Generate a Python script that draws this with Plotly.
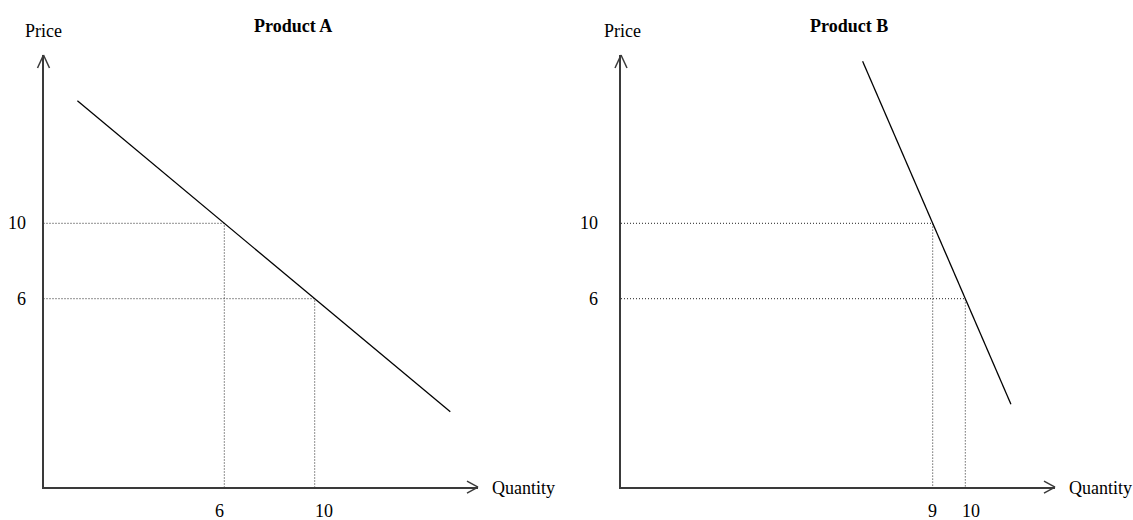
import plotly.graph_objects as go

# ---------------- data ----------------
titles = ["Product A", "Product B"]
axis_price_label = "Price"
axis_qty_label = "Quantity"

# demand lines (quantity, price)
qA = [-0.5, 16.0]
pA = [16.5, 0.0]
qB = [6.85, 11.4]
pB = [18.6, 0.4]

# reference points: price levels and matching quantities
price_levels = [10, 6]
qty_A = [6, 10]
qty_B = [9, 10]

# ---------------- layout constants (pixels) ----------------
W, H = 1133, 520
FONT = "Liberation Serif, Times New Roman, serif"
AXIS_COLOR = "#3a3a3a"

# y axis (shared geometry): origin pixel, top pixel, calibration (value, px)
Y0PX, Y1PX = 487.2, 55.0
PCAL = (10, 223.3, 6, 298.7)

panels = [
    dict(title=titles[0], q=qA, p=pA, qty=qty_A, x0px=43.5, x1px=478.0,
         qcal=(6, 224.3, 10, 314.7), title_x=293, price_x=44,
         xtick_shift=[-5, 9], xtick_y=-24, ytick_shift=-16, qty_label_x=490),
    dict(title=titles[1], q=qB, p=pB, qty=qty_B, x0px=621.0, x1px=1055.0,
         qcal=(9, 932.7, 10, 965.3), title_x=849, price_x=622,
         xtick_shift=[0, 6], xtick_y=-24, ytick_shift=-21, qty_label_x=1067),
]


def val_at(px, cal):
    v1, p1, v2, p2 = cal
    return v1 + (px - p1) * (v2 - v1) / (p2 - p1)


fig = go.Figure()
shapes = []
annotations = []

prange = [val_at(Y0PX, PCAL), val_at(Y1PX, PCAL)]
ydom = [1 - Y0PX / H, 1 - Y1PX / H]

for i, pn in enumerate(panels, start=1):
    xa = "x" if i == 1 else f"x{i}"
    ya = "y" if i == 1 else f"y{i}"
    qrange = [val_at(pn["x0px"], pn["qcal"]), val_at(pn["x1px"], pn["qcal"])]
    xdom = [pn["x0px"] / W, pn["x1px"] / W]

    axkw = dict(showgrid=False, zeroline=False, showticklabels=False, ticks="",
                showline=True, linecolor=AXIS_COLOR, linewidth=2, fixedrange=True)
    fig.update_layout(**{
        ("xaxis" if i == 1 else f"xaxis{i}"): dict(domain=xdom, range=qrange, anchor=ya, **axkw),
        ("yaxis" if i == 1 else f"yaxis{i}"): dict(domain=ydom, range=prange, anchor=xa, **axkw),
    })

    # dotted guide lines
    for qv, pv in zip(pn["qty"], price_levels):
        fig.add_trace(go.Scatter(
            x=[qrange[0], qv, qv], y=[pv, pv, prange[0]], mode="lines",
            line=dict(color="#222", width=1, dash="1px,2px"),
            xaxis=xa, yaxis=ya, showlegend=False, hoverinfo="skip", cliponaxis=False))

    # demand line
    fig.add_trace(go.Scatter(
        x=pn["q"], y=pn["p"], mode="lines", line=dict(color="black", width=1.3),
        xaxis=xa, yaxis=ya, showlegend=False, hoverinfo="skip", cliponaxis=False))

    # arrowheads (open chevrons)
    xtip = xdom[1]
    ybase = ydom[0]
    for dy in (6, -6):
        shapes.append(dict(type="line", xref="paper", yref="paper", xsizemode="pixel",
                           ysizemode="pixel", xanchor=xtip, yanchor=ybase,
                           x0=0, y0=0, x1=-11, y1=dy, line=dict(color=AXIS_COLOR, width=1.5)))
    for dx in (6, -6):
        shapes.append(dict(type="line", xref="paper", yref="paper", xsizemode="pixel",
                           ysizemode="pixel", xanchor=xdom[0], yanchor=ydom[1],
                           x0=0, y0=0, x1=dx, y1=-13, line=dict(color=AXIS_COLOR, width=1.5)))

    # price tick labels
    for pv in price_levels:
        annotations.append(dict(x=qrange[0], y=pv, xref=xa, yref=ya, text=str(pv),
                                showarrow=False, xanchor="right", yanchor="middle",
                                xshift=pn["ytick_shift"], font=dict(family=FONT, size=18, color="black")))
    # quantity tick labels
    for qv, sh in zip(pn["qty"], pn["xtick_shift"]):
        annotations.append(dict(x=qv, y=prange[0], xref=xa, yref=ya, text=str(qv),
                                showarrow=False, xanchor="center", yanchor="middle",
                                xshift=sh, yshift=pn["xtick_y"],
                                font=dict(family=FONT, size=18, color="black")))
    # title
    annotations.append(dict(x=pn["title_x"] / W, y=1 - 26 / H, xref="paper", yref="paper",
                            text=f"<b>{pn['title']}</b>", showarrow=False,
                            xanchor="center", yanchor="middle",
                            font=dict(family=FONT, size=18, color="black")))
    # axis labels
    annotations.append(dict(x=pn["price_x"] / W, y=1 - 31 / H, xref="paper", yref="paper",
                            text=axis_price_label, showarrow=False,
                            xanchor="center", yanchor="middle",
                            font=dict(family=FONT, size=18, color="black")))
    annotations.append(dict(x=pn["qty_label_x"] / W, y=1 - 488 / H, xref="paper", yref="paper",
                            text=axis_qty_label, showarrow=False,
                            xanchor="left", yanchor="middle",
                            font=dict(family=FONT, size=18, color="black")))

fig.update_layout(
    width=W, height=H, margin=dict(l=0, r=0, t=0, b=0),
    paper_bgcolor="white", plot_bgcolor="white",
    shapes=shapes, annotations=annotations, showlegend=False,
)

fig.write_html("out.html", config={"displayModeBar": False},
               post_script="document.body.style.margin='0px';document.body.style.overflow='hidden';")
